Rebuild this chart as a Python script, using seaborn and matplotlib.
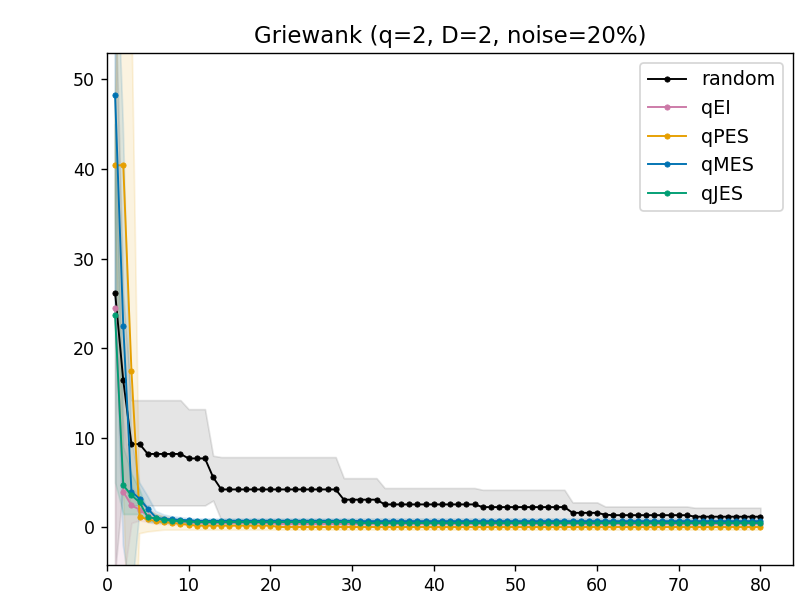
import numpy as np
import pandas as pd
import matplotlib
matplotlib.use("Agg")
import matplotlib.pyplot as plt
import seaborn as sns

iters = list(range(1, 81))

random_mean = [26.2, 16.4, 9.3, 9.3] + [8.2]*5 + [7.7]*3 + [5.6] + [4.24]*15 + [3.1]*5 + [2.57]*12 + [2.27]*11 + [1.63]*4 + [1.42] + [1.37]*10 + [1.2]*9
random_lo = [-5, 5] + [2.46]*10 + [3.0] + [0.8]*67
random_hi = [60, 26] + [14.2]*7 + [13.2]*3 + [8.0] + [7.85]*15 + [5.5]*5 + [4.4]*12 + [4.2]*11 + [2.8]*4 + [2.34]*11 + [2.2]*9

qEI_mean = [24.5, 4.0, 2.45, 2.0, 1.3, 0.9, 0.8, 0.7, 0.6, 0.55] + [0.5]*10 + [0.4]*60
qEI_lo = [-10, -6, 0.5, 0.8, 0.6, 0.4, 0.4, 0.3, 0.3, 0.3] + [0.2]*70
qEI_hi = [45, 12, 4.5, 3.5, 2.2, 1.5, 1.2, 1.0, 0.9, 0.8] + [0.7]*70

qPES_mean = [40.4, 40.4, 17.5, 1.2, 0.9, 0.7, 0.6, 0.5, 0.4, 0.3] + [0.2]*10 + [0.05]*60
qPES_lo = [35, 5, -25, -0.7, -0.5, -0.4, -0.3, -0.3, -0.3, -0.3] + [-0.3]*70
qPES_hi = [46, 76, 60, 3.0, 2.0, 1.5, 1.2, 1.0, 0.8, 0.7] + [0.5]*70

qMES_mean = [48.2, 22.5, 4.0, 3.2, 2.1, 1.1, 0.95, 0.9, 0.85, 0.8] + [0.75]*20 + [0.7]*50
qMES_lo = [25, -2, -8, 1.5, 0.8, 0.5, 0.5, 0.5, 0.5, 0.5] + [0.5]*70
qMES_hi = [70, 45, 10, 5, 3.5, 1.8, 1.4, 1.2, 1.1, 1.0] + [0.95]*70

qJES_mean = [23.7, 4.7, 3.6, 2.8, 1.15, 1.0, 0.85, 0.75, 0.7, 0.65] + [0.6]*20 + [0.5]*50
qJES_lo = [5, 1.5, 1.5, 1.5, 0.6, 0.6, 0.5, 0.5, 0.5, 0.45] + [0.35]*70
qJES_hi = [45, 9, 6, 4.2, 1.8, 1.4, 1.2, 1.0, 0.9, 0.9] + [0.8]*70

names = ["random", "qEI", "qPES", "qMES", "qJES"]
means = [random_mean, qEI_mean, qPES_mean, qMES_mean, qJES_mean]
los = [random_lo, qEI_lo, qPES_lo, qMES_lo, qJES_lo]
his = [random_hi, qEI_hi, qPES_hi, qMES_hi, qJES_hi]
colors = ["#000000", "#CC79A7", "#E69F00", "#0072B2", "#009E73"]
band_alpha = [0.1, 0.12, 0.12, 0.12, 0.12]

fig = plt.figure(figsize=(6.432, 4.784), dpi=125)
ax = fig.add_axes([0.133, 0.055, 0.853, 0.856])

for name, m, lo, hi, c, a in zip(names, means, los, his, colors, band_alpha):
    df = pd.DataFrame({"iter": iters, "val": m})
    sns.lineplot(data=df, x="iter", y="val", ax=ax, color=c, label=name,
                 marker="o", markersize=3, markeredgecolor=c, markeredgewidth=0.5,
                 linewidth=1.1)
    ax.fill_between(iters, lo, hi, color=c, alpha=a)

ax.set_xlim(0, 83.95)
ax.set_ylim(-4.2, 52.9)
ax.set_xlabel("")
ax.set_ylabel("")
ax.set_title("Griewank (q=2, D=2, noise=20%)", fontsize=13.2)
ax.legend(loc="upper right", fontsize=11)
fig.savefig("out.png", dpi=125)
